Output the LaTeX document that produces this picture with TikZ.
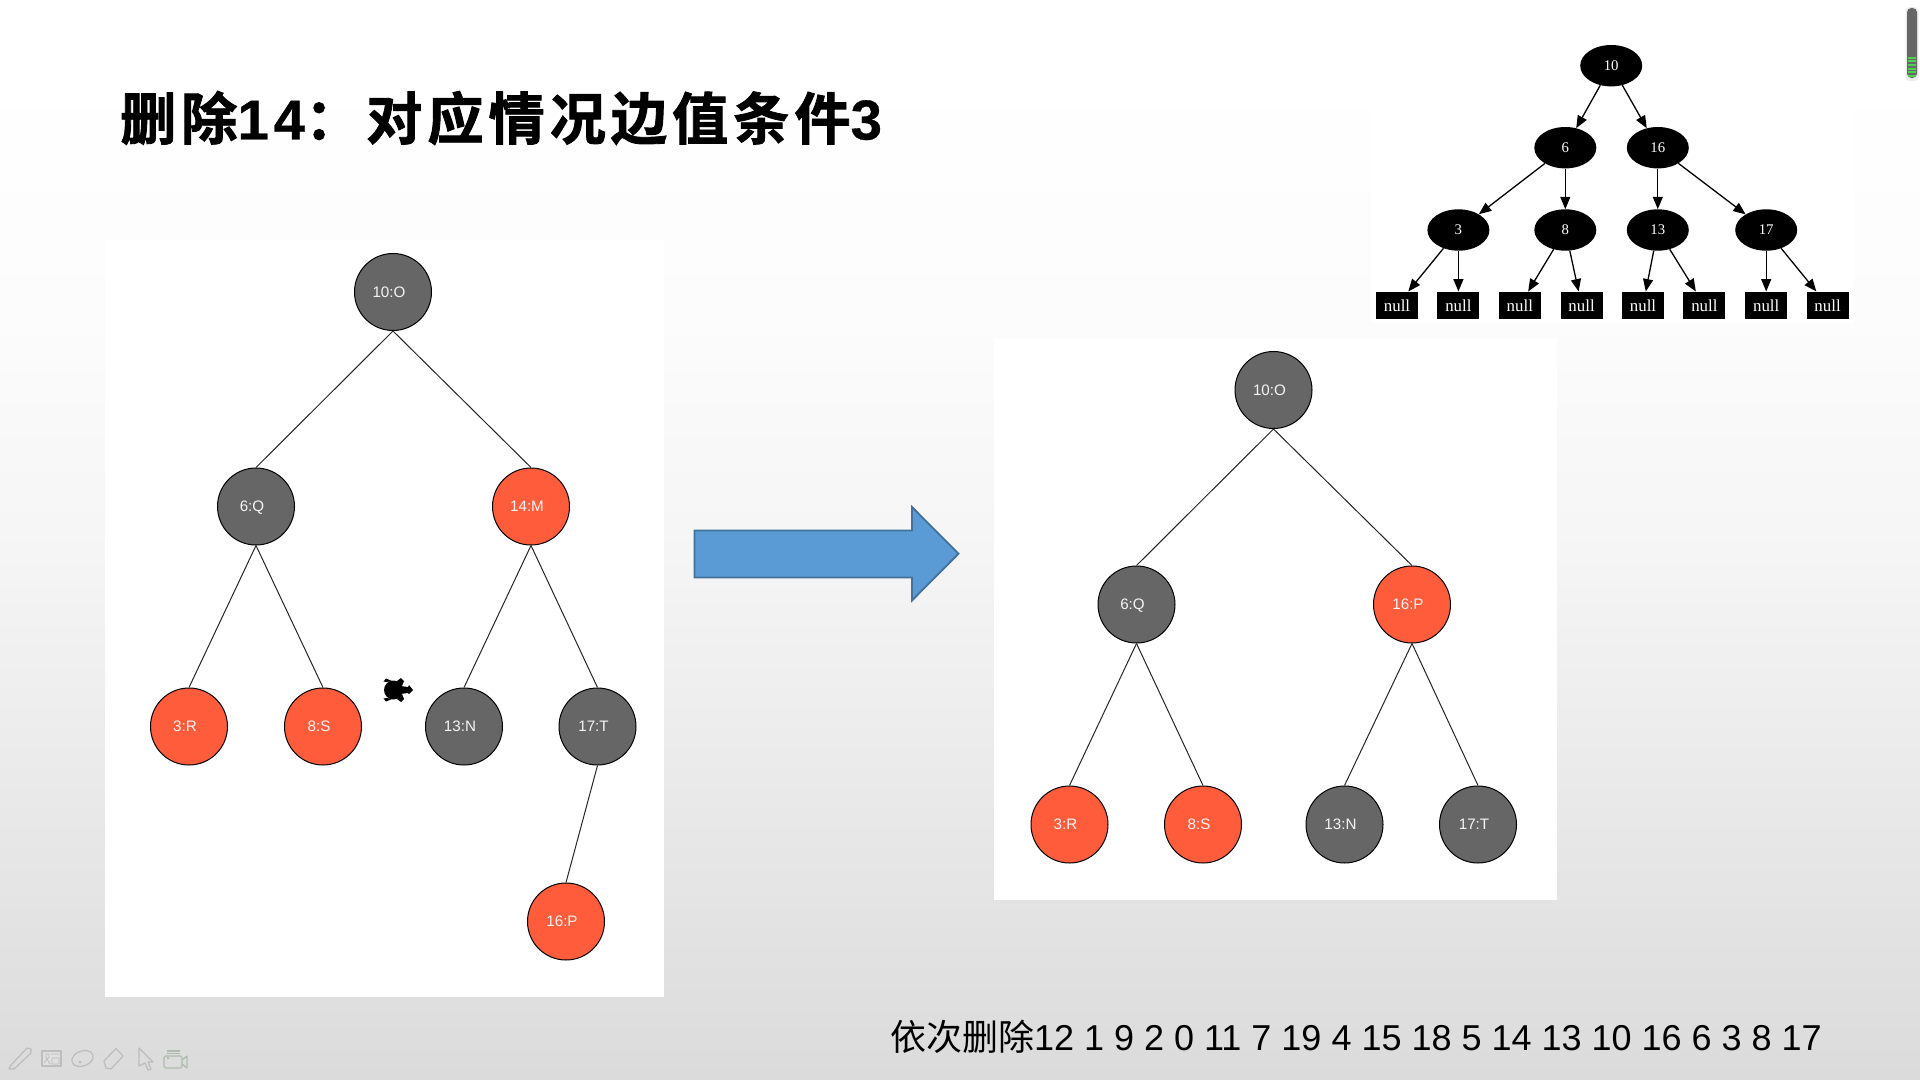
\documentclass[tikz,border=0pt]{standalone}
\usepackage{fontspec}
\usetikzlibrary{arrows.meta,shapes.geometric}
\setmainfont{Liberation Sans}
\newfontfamily\cjkregular{Noto Sans CJK SC}
\newfontfamily\cjkheavy[FakeBold=1.5,LetterSpace=8.8]{Noto Sans CJK SC Bold}
\newfontfamily\latinheavy[FakeBold=0.6,LetterSpace=8.8]{Liberation Sans Bold}
\newfontfamily\graphfont{Liberation Serif}
\definecolor{rbblack}{HTML}{666666}
\definecolor{rbred}{HTML}{FF5C3C}
\definecolor{rblabel}{HTML}{F4F4F4}
\definecolor{bgupper}{HTML}{FCFCFC}
\definecolor{bgmid}{HTML}{F5F5F5}
\definecolor{bgbottom}{HTML}{DBDBDB}
\definecolor{arrowfill}{HTML}{5B9BD5}
\definecolor{arrowline}{HTML}{41719C}
\definecolor{toolgray}{HTML}{BDBDBD}
\definecolor{toolgreen}{HTML}{AEBBAE}
% slide background: the path's height maps onto the 25bp to 75bp band of this shading
\pgfdeclareverticalshading{slidebackdrop}{100bp}{
  color(0bp)=(bgbottom); color(25bp)=(bgbottom); color(49.3bp)=(bgmid); color(60.2bp)=(bgupper); color(72bp)=(white); color(100bp)=(white)}
\tikzset{
  x=0.05cm, y=-0.05cm,
  rbnode/.style={circle, draw=black, line width=0.05cm, minimum size=3.85cm, inner sep=0pt,
    text=rblabel, text height=15.5pt, text depth=0pt, font=\fontsize{21.6pt}{24pt}\selectfont, execute at begin node={\kern-11.4pt}},
  graynode/.style={rbnode, fill=rbblack},
  rednode/.style={rbnode, fill=rbred},
  treeedge/.style={draw=black!85, line width=0.05cm},
  gvround/.style={ellipse, fill=black, text=white, minimum width=3.1cm, minimum height=2.07cm, inner sep=0pt,
    font=\graphfont\fontsize{21pt}{24pt}\selectfont},
  gvbox/.style={rectangle, fill=black, text=white, minimum width=2.1cm, minimum height=1.37cm, inner sep=0pt,
    font=\graphfont\fontsize{24pt}{26pt}\selectfont},
  gvedge/.style={draw=black, line width=0.065cm, -{Triangle[length=0.62cm,width=0.5cm]}},
  toolicon/.style={draw=toolgray, line width=0.06cm, line join=round},
}
\begin{document}
\begin{tikzpicture}
\useasboundingbox (0,0) rectangle (1920,1080);
\shade[shading=slidebackdrop] (0,0) rectangle (1920,1080);

% white panels
\fill[white] (1371,45) rectangle (1854,323);
\fill[white] (105,240) rectangle (664,997);
\fill[white] (994,338) rectangle (1557,900);

% heading
\node[anchor=west, inner sep=0pt, text=black, font=\fontsize{80pt}{90pt}\selectfont] (heading) at (120,118)
  {{\cjkheavy 删除}{\latinheavy 14}{\cjkheavy ：对应情况边值条件}{\latinheavy 3}};

% tree before the rotation
\node[graynode] (la) at (393,292) {10:O};
\node[graynode] (lb) at (256,506.5) {6:Q};
\node[rednode]  (lc) at (531,506.5) {14:M};
\node[rednode]  (ld) at (189,726.5) {3:R};
\node[rednode]  (le) at (323,726.5) {8:S};
\node[graynode] (lf) at (464,726.5) {13:N};
\node[graynode] (lg) at (597.5,726.5) {17:T};
\node[rednode]  (lh) at (566,921.5) {16:P};
\foreach \p/\q in {la/lb,la/lc,lb/ld,lb/le,lc/lf,lc/lg,lg/lh}
  \draw[treeedge] (\p.south) -- (\q.north);

% tree after the rotation
\node[graynode] (ra) at (1273.5,390) {10:O};
\node[graynode] (rb) at (1136.5,604.5) {6:Q};
\node[rednode]  (rc) at (1412,604.5) {16:P};
\node[rednode]  (rd) at (1069.5,824.5) {3:R};
\node[rednode]  (re) at (1203,824.5) {8:S};
\node[graynode] (rf) at (1344.5,824.5) {13:N};
\node[graynode] (rg) at (1478,824.5) {17:T};
\foreach \p/\q in {ra/rb,ra/rc,rb/rd,rb/re,rc/rf,rc/rg}
  \draw[treeedge] (\p.south) -- (\q.north);

% block arrow between the two trees
\draw[fill=arrowfill, draw=arrowline, line width=0.09cm, line join=miter]
  (694.5,530.5) -- (912,530.5) -- (912,507) -- (958.5,553.7) -- (912,600.5) -- (912,577.5) -- (694.5,577.5) -- cycle;

% turtle
\fill[black] (393.5,690) circle (9.5);
\fill[black] (400,686) -- (408,687) -- (409,685) -- (413,690) -- (409,694) -- (408,693) -- (400,694) -- cycle;
\fill[black] (387,682) -- (383.5,681.5) -- (386,678.5) -- (392,681) -- cycle;
\fill[black] (397,681) -- (401,678) -- (404,681) -- (402,686) -- cycle;
\fill[black] (387,698) -- (383.5,698.5) -- (386,701.5) -- (392,699) -- cycle;
\fill[black] (397,699) -- (401,702) -- (404,699) -- (402,694) -- cycle;

% reference tree, top right
\node[gvround] (g10) at (1611.2,65.7) {10};
\node[gvround] (g6)  at (1565.3,147.7) {6};
\node[gvround] (g16) at (1657.8,147.7) {16};
\node[gvround] (g3)  at (1458.4,230) {3};
\node[gvround] (g8)  at (1565.3,230) {8};
\node[gvround] (g13) at (1657.8,230) {13};
\node[gvround] (g17) at (1766.2,230) {17};
\node[gvbox] (n1) at (1397,305.3) {null};
\node[gvbox] (n2) at (1458.4,305.3) {null};
\node[gvbox] (n3) at (1519.8,305.3) {null};
\node[gvbox] (n4) at (1581.6,305.3) {null};
\node[gvbox] (n5) at (1643,305.3) {null};
\node[gvbox] (n6) at (1704.4,305.3) {null};
\node[gvbox] (n7) at (1766.2,305.3) {null};
\node[gvbox] (n8) at (1827.6,305.3) {null};
\foreach \p/\q in {g10/g6,g10/g16,g6/g3,g6/g8,g16/g13,g16/g17,g3/n1,g3/n2,g8/n3,g8/n4,g13/n5,g13/n6,g17/n7,g17/n8}
  \draw[gvedge] (\p) -- (\q);

% deletion order
\node[anchor=west, inner sep=0pt, text=black, font=\fontsize{51.2pt}{56pt}\selectfont] (order) at (890,1036.5)
  {{\cjkregular 依次删除}12 1 9 2 0 11 7 19 4 15 18 5 14 13 10 16 6 3 8 17};

% battery gauge, top right corner
\fill[white!92!black, rounded corners=0.2cm] (1905.5,7) rectangle (1918.5,81);
\fill[rbblack, rounded corners=0.22cm] (1907,8) rectangle (1917,78);
\foreach \yy in {57,60.5,64,67.5,71,74.5}
  \fill[green!75!black!70!white] (1908,\yy) rectangle (1916,\yy+2);

% pen toolbar, bottom left
\draw[toolicon] (9,1069) -- (11,1065) -- (27,1048) -- (31,1049) -- (31,1053) -- (14,1069) -- cycle;
\draw[toolicon, fill=white!88!black] (42,1051) rectangle (61,1066);
\draw[toolicon, line width=0.04cm] (46,1054) rectangle (49,1058) (51,1054) -- (59,1054) (52,1058) rectangle (59,1064) (44,1063) -- (47,1059) -- (50,1064);
\draw[toolicon] (82.5,1058.5) ellipse [x radius=11, y radius=7.5, rotate=20];
\fill[toolgray] (80,1062) circle (1.5);
\draw[toolicon] (104,1061) -- (116,1048.5) -- (123,1056) -- (111,1069) -- (106,1068) -- cycle;
\draw[toolicon] (139,1048) -- (153,1062) -- (148,1062) -- (151,1069) -- (148,1070) -- (145,1063) -- (139,1066) -- cycle;
\draw[toolicon, draw=toolgreen, rounded corners=0.08cm] (164,1056) rectangle (182,1068);
\draw[toolicon, draw=toolgreen] (182,1060) -- (187,1056) -- (187,1068) -- (182,1064);
\draw[toolicon, draw=toolgreen] (167,1051) -- (180,1051) (167,1053.5) -- (180,1053.5);
\fill[toolgreen] (168,1058) circle (1.3);
\end{tikzpicture}
\end{document}
